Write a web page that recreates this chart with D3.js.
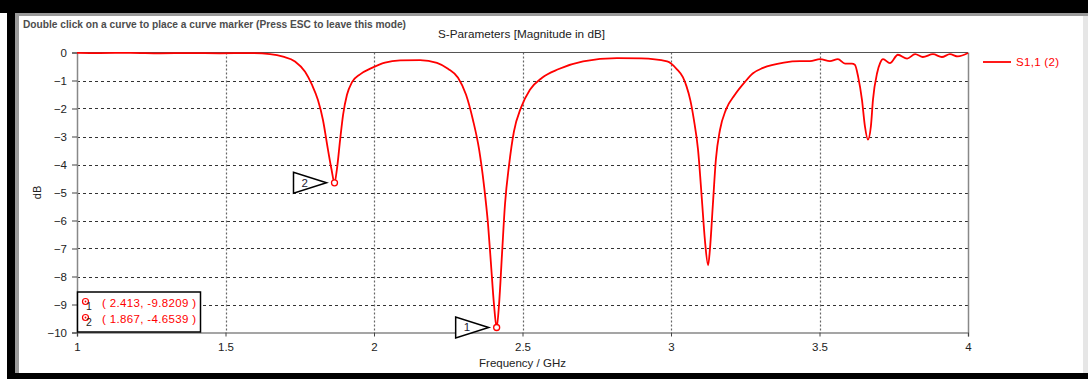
<!DOCTYPE html>
<html>
<head>
<meta charset="utf-8">
<script src="https://cdn.jsdelivr.net/npm/d3@7"></script>
<style>
  html, body { margin: 0; padding: 0; background: #fff; }
  svg { display: block; font-family: "Liberation Sans", Arial, sans-serif; }
</style>
</head>
<body>
<svg id="chart" width="1088" height="379"></svg>
<script>
// S11 magnitude sweep, frequency in GHz and magnitude in dB
const freqGHz = [
  1.000, 1.077, 1.180, 1.280, 1.380, 1.480, 1.580, 1.650, 1.694, 1.734,
  1.768, 1.791, 1.811, 1.828, 1.845, 1.857, 1.867, 1.875, 1.886, 1.896,
  1.909, 1.926, 1.953, 1.993, 2.037, 2.088, 2.155, 2.212, 2.249, 2.283,
  2.310, 2.333, 2.354, 2.370, 2.384, 2.394, 2.404, 2.413, 2.421, 2.431,
  2.441, 2.455, 2.471, 2.495, 2.525, 2.566, 2.620, 2.704, 2.818, 2.900,
  2.987, 3.020, 3.040, 3.052, 3.065, 3.077, 3.091, 3.104, 3.114, 3.125,
  3.131, 3.141, 3.151, 3.165, 3.185, 3.215, 3.249, 3.275, 3.310, 3.380,
  3.434, 3.468, 3.502, 3.535, 3.562, 3.586, 3.609, 3.619, 3.630, 3.643,
  3.653, 3.663, 3.673, 3.680, 3.694, 3.704, 3.714, 3.737, 3.764, 3.795,
  3.822, 3.848, 3.882, 3.912, 3.939, 3.966, 4.000
];
const s11dB = [
  -0.01, -0.02, -0.01, -0.03, -0.02, -0.03, -0.02, -0.06, -0.15, -0.32,
  -0.69, -1.15, -1.69, -2.40, -3.47, -4.18, -4.6539, -4.18, -3.11, -2.22,
  -1.51, -1.06, -0.78, -0.55, -0.36, -0.28, -0.27, -0.37, -0.58, -0.90,
  -1.51, -2.40, -3.47, -4.72, -6.14, -7.57, -9.00, -9.8209, -9.00, -7.20,
  -5.43, -4.00, -2.83, -1.97, -1.33, -0.90, -0.60, -0.32, -0.20, -0.21,
  -0.32, -0.60, -0.88, -1.20, -1.70, -2.40, -3.47, -5.25, -6.68, -7.60,
  -7.04, -5.43, -3.83, -2.76, -2.04, -1.51, -1.05, -0.75, -0.55, -0.36,
  -0.31, -0.31, -0.24, -0.31, -0.24, -0.40, -0.40, -0.44, -0.86, -1.69,
  -2.64, -3.11, -2.64, -1.69, -0.73, -0.38, -0.24, -0.38, -0.08, -0.22,
  -0.06, -0.16, -0.06, -0.16, -0.06, -0.14, -0.02
];
const xTicks = [1, 1.5, 2, 2.5, 3, 3.5, 4];
const xTickLabels = ["1", "1.5", "2", "2.5", "3", "3.5", "4"];
const yTicks = [0, -1, -2, -3, -4, -5, -6, -7, -8, -9, -10];
const markerIds = ["1", "2"];
const markerFreq = [2.413, 1.867];
const markerDB = [-9.8209, -4.6539];
const seriesName = "S1,1 (2)";

const svg = d3.select("#chart");
const red = "#ff0000";

// window frame
svg.append("rect").attr("x", 0).attr("y", 0).attr("width", 1088).attr("height", 13).attr("fill", "#000");
svg.append("rect").attr("x", 7).attr("y", 13).attr("width", 8).attr("height", 366).attr("fill", "#000");
svg.append("rect").attr("x", 7).attr("y", 373).attr("width", 1081).attr("height", 6).attr("fill", "#000");
svg.append("rect").attr("x", 15).attr("y", 13).attr("width", 1073).attr("height", 3).attr("fill", "#9a9a9a");
svg.append("rect").attr("x", 15).attr("y", 13).attr("width", 4).attr("height", 360).attr("fill", "#9a9a9a");
svg.append("rect").attr("x", 1083).attr("y", 16).attr("width", 5).attr("height", 357).attr("fill", "#e6e6e6");

const x = d3.scaleLinear().domain([1, 4]).range([77, 968]);
const y = d3.scaleLinear().domain([-10, 0]).range([332.5, 52.5]);

// header texts
svg.append("text").attr("x", 23).attr("y", 28)
  .attr("font-size", 10.5).attr("font-weight", "bold").attr("fill", "#4d4d4d")
  .attr("textLength", 383).attr("lengthAdjust", "spacingAndGlyphs")
  .text("Double click on a curve to place a curve marker (Press ESC to leave this mode)");
svg.append("text").attr("x", 438).attr("y", 38)
  .attr("font-size", 11.5).attr("fill", "#222")
  .attr("textLength", 167).attr("lengthAdjust", "spacingAndGlyphs")
  .text("S-Parameters [Magnitude in dB]");

// grid
const grid = svg.append("g");
grid.selectAll("line.h").data(yTicks.filter(d => d > -10 && d < 0)).join("line")
  .attr("x1", x(1)).attr("x2", x(4))
  .attr("y1", d => Math.round(y(d)) + 0.5).attr("y2", d => Math.round(y(d)) + 0.5)
  .attr("stroke", "#333").attr("stroke-width", 1).attr("stroke-dasharray", "3,3");
grid.selectAll("line.v").data(xTicks.filter(d => d > 1 && d < 4)).join("line")
  .attr("x1", d => Math.round(x(d)) + 0.5).attr("x2", d => Math.round(x(d)) + 0.5)
  .attr("y1", y(0)).attr("y2", y(-10))
  .attr("stroke", "#666").attr("stroke-width", 1.2).attr("stroke-dasharray", "2,2");

// plot frame
svg.append("line").attr("x1", x(1)).attr("x2", x(4)).attr("y1", y(0)).attr("y2", y(0))
  .attr("stroke", "#555").attr("stroke-width", 1);
svg.append("line").attr("x1", x(4) + 0.5).attr("x2", x(4) + 0.5).attr("y1", y(0)).attr("y2", y(-10))
  .attr("stroke", "#888").attr("stroke-width", 1.5);

// axes
const yAxis = d3.axisLeft(y).tickValues(yTicks).tickSize(5).tickPadding(5).tickFormat(d3.format("d"));
const yg = svg.append("g").attr("transform", `translate(${x(1)},0)`).call(yAxis);
yg.select(".domain").attr("stroke", "#888").attr("stroke-width", 1.5);
yg.selectAll(".tick line").attr("stroke", "#444");
yg.selectAll(".tick text").attr("font-size", 11.5).attr("fill", "#222")
  .attr("font-family", "\"Liberation Sans\", Arial, sans-serif");

const xAxis = d3.axisBottom(x).tickValues(xTicks).tickSize(4).tickPadding(6)
  .tickFormat((d, i) => xTickLabels[i]);
const xg = svg.append("g").attr("transform", `translate(0,${y(-10)})`).call(xAxis);
xg.select(".domain").attr("stroke", "#888").attr("stroke-width", 1.5);
xg.selectAll(".tick line").attr("stroke", "#444");
xg.selectAll(".tick text").attr("font-size", 11.5).attr("fill", "#222")
  .attr("font-family", "\"Liberation Sans\", Arial, sans-serif");

// axis titles
svg.append("text").attr("x", (x(1) + x(4)) / 2).attr("y", 367).attr("text-anchor", "middle")
  .attr("font-size", 11.5).attr("fill", "#222").text("Frequency / GHz");
svg.append("text").attr("transform", `translate(41,${y(-5)}) rotate(-90)`).attr("text-anchor", "middle")
  .attr("font-size", 11).attr("fill", "#222").text("dB");

// curve
const pts = freqGHz.map((f, i) => [f, s11dB[i]]);
const line = d3.line().x(d => x(d[0])).y(d => y(d[1])).curve(d3.curveMonotoneX);
svg.append("path").datum(pts).attr("d", line)
  .attr("fill", "none").attr("stroke", red).attr("stroke-width", 1.8).attr("stroke-linejoin", "round");

// curve markers with pointer triangles
markerIds.forEach((id, i) => {
  const cx = x(markerFreq[i]), cy = y(markerDB[i]);
  const tip = cx - 8;
  svg.append("path")
    .attr("d", `M${tip},${cy} L${tip - 33},${cy - 10.5} L${tip - 33},${cy + 10.5} Z`)
    .attr("fill", "#fff").attr("stroke", "#000").attr("stroke-width", 1.5);
  svg.append("text").attr("x", tip - 25).attr("y", cy + 4)
    .attr("font-size", 11.5).attr("fill", "#223").text(id);
  svg.append("circle").attr("cx", cx).attr("cy", cy).attr("r", 3)
    .attr("fill", "#fff").attr("stroke", red).attr("stroke-width", 1.3);
});

// marker readout box
const box = svg.append("g");
box.append("rect").attr("x", 77.5).attr("y", 292).attr("width", 123).attr("height", 40)
  .attr("fill", "#fff").attr("stroke", "#000").attr("stroke-width", 1.5);
markerIds.forEach((id, i) => {
  const ry = 301.5 + i * 16;
  box.append("circle").attr("cx", 85.5).attr("cy", ry).attr("r", 3)
    .attr("fill", "#fff").attr("stroke", red).attr("stroke-width", 1.2);
  box.append("circle").attr("cx", 85.5).attr("cy", ry).attr("r", 0.9).attr("fill", red);
  box.append("text").attr("x", 86).attr("y", ry + 8.5)
    .attr("font-size", 10.5).attr("fill", "#222").text(id);
  box.append("text").attr("x", 102).attr("y", ry + 5)
    .attr("font-size", 11.5).attr("fill", red)
    .attr("textLength", 94).attr("lengthAdjust", "spacing")
    .text(`( ${markerFreq[i].toFixed(3)}, ${markerDB[i].toFixed(4)} )`);
});

// legend
svg.append("line").attr("x1", 983).attr("x2", 1011).attr("y1", 62).attr("y2", 62)
  .attr("stroke", red).attr("stroke-width", 1.8);
svg.append("text").attr("x", 1016).attr("y", 66).attr("font-size", 11.5).attr("fill", red)
  .attr("textLength", 43).attr("lengthAdjust", "spacing").text(seriesName);
</script>
</body>
</html>
